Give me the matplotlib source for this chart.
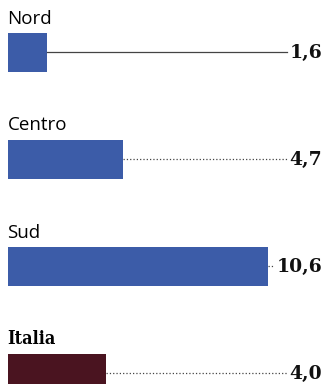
import matplotlib
matplotlib.use("Agg")
import matplotlib.pyplot as plt
from matplotlib.lines import Line2D

categories = ["Nord", "Centro", "Sud", "Italia"]
values = [1.6, 4.7, 10.6, 4.0]
value_labels = ["1,6", "4,7", "10,6", "4,0"]

bar_colors = ["#3c5ca8", "#3c5ca8", "#3c5ca8", "#4a1420"]
label_fonts = [("Open Sans", "medium", "normal"), ("Open Sans", "medium", "normal"),
               ("Open Sans", "medium", "normal"), ("DejaVu Serif", "bold", "condensed")]
line_styles = ["-", ":", ":", ":"]

W, H = 325, 384
fig = plt.figure(figsize=(W / 100, H / 100), dpi=100)
ax = fig.add_axes([0, 0, 1, 1])
ax.set_axis_off()

px_per_unit = 24.5
x0_px = 8
ax.set_xlim(-x0_px / px_per_unit, (W - x0_px) / px_per_unit)
step = 107.0
first_center = 52.0
ax.set_ylim((H - first_center) / step, -first_center / step)

bar_h = 39 / step
ypos = list(range(len(categories)))
ax.barh(ypos, values, height=bar_h, color=bar_colors, left=0)

x_right = (W - 3 - x0_px) / px_per_unit
texts = []
for i, (cat, lab) in enumerate(zip(categories, value_labels)):
    fam, wt, st = label_fonts[i]
    ax.text(-0.02, i - bar_h / 2 - 5 / step, cat, ha="left", va="bottom",
            fontsize=13.5 if wt != "bold" else 13, family=fam, fontweight=wt,
            color="#000000", fontstretch=st)
    t = ax.text(x_right, i + 0.01, lab, ha="right", va="center",
                fontsize=13.5, family="DejaVu Serif", fontweight="bold",
                color="#111111")
    texts.append(t)

fig.canvas.draw()
r = fig.canvas.get_renderer()
inv = ax.transData.inverted()
for i, t in enumerate(texts):
    bb = t.get_window_extent(r)
    xl = inv.transform((bb.x0 - 2, 0))[0]
    ax.add_line(Line2D([values[i], xl], [i, i], color="#444444",
                       linestyle=line_styles[i], linewidth=0.9))

fig.savefig("out.png", dpi=100, facecolor="white")
